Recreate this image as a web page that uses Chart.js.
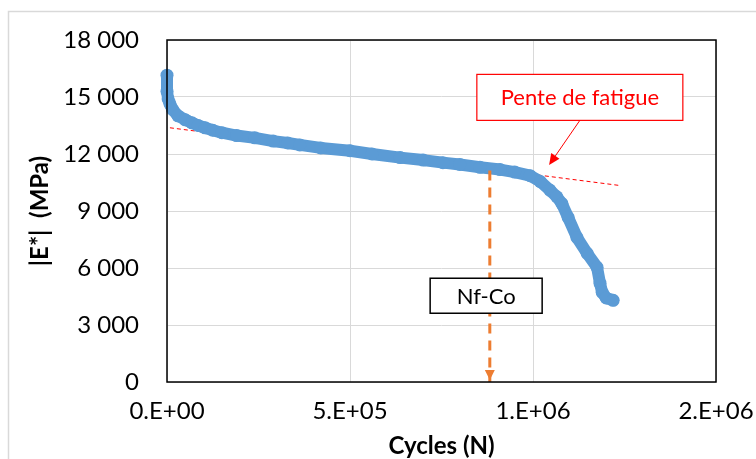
<!DOCTYPE html>
<html>
<head>
<meta charset="utf-8">
<script src="https://cdn.jsdelivr.net/npm/chart.js@4.4.1/dist/chart.umd.min.js"></script>
<style>
  html, body { margin: 0; padding: 0; background: #fff; }
  #wrap { width: 756px; height: 459px; position: relative; }
</style>
</head>
<body>
<div id="wrap"><canvas id="grafico" width="756" height="459"></canvas></div>
<script>
// modulus curve (cycles, |E*| MPa)
const cycles = [0, 0, 3000, 8000, 15000, 30000, 50000, 68000, 85000, 104000, 125000, 150000, 190000, 240000,
  290000, 330000, 363000, 420000, 500000, 560000, 637000, 700000, 754000, 800000, 855000, 910000, 950000,
  992000, 1020000, 1046000, 1065000, 1079000, 1096000, 1120000, 1148000, 1175000, 1183000, 1189000, 1200000, 1219000];
const modulus = [16150, 15300, 14900, 14640, 14350, 14010, 13800, 13640, 13500, 13380, 13250, 13120, 12970, 12850,
  12680, 12580, 12480, 12320, 12170, 12000, 11810, 11680, 11545, 11450, 11300, 11180, 11050,
  10860, 10550, 10100, 9750, 9390, 8660, 7610, 6770, 6040, 5200, 4720, 4420, 4300];

// fatigue slope (trend line)
const penteX = [8000, 1238000];
const penteY = [13380, 10340];

// Nf-Co marker
const nfX = [882000, 882000];
const nfY = [11130, 0];

const xTicks = [0, 500000, 1000000, 1500000];
const xTickLabels = ['0.E+00', '5.E+05', '1.E+06', '2.E+06'];
const yTickLabels = ['0', '3 000', '6 000', '9 000', '12 000', '15 000', '18 000'];

const FONT = 'Lato, "Open Sans", sans-serif';

const extras = {
  id: 'extras',
  beforeDraw(chart) {
    const ctx = chart.ctx;
    ctx.save();
    ctx.fillStyle = '#fff';
    ctx.fillRect(0, 0, chart.width, chart.height);
    ctx.strokeStyle = '#D9D9D9';
    ctx.lineWidth = 1.5;
    ctx.strokeRect(8.5, 11.5, 800, 500);
    ctx.restore();
  },
  afterDatasetsDraw(chart) {
    const ctx = chart.ctx;
    const xs = chart.scales.x, ys = chart.scales.y;
    const a = chart.chartArea;
    ctx.save();
    // plot frame
    ctx.strokeStyle = '#000';
    ctx.lineWidth = 1.5;
    ctx.strokeRect(a.left, a.top, a.right - a.left, a.bottom - a.top);

    // orange arrow head
    const ax = xs.getPixelForValue(nfX[1]);
    const ay = ys.getPixelForValue(nfY[1]) - 2;
    ctx.fillStyle = '#ED7D31';
    ctx.beginPath();
    ctx.moveTo(ax, ay);
    ctx.lineTo(ax - 5, ay - 10);
    ctx.lineTo(ax + 5, ay - 10);
    ctx.closePath();
    ctx.fill();

    // Nf-Co box
    const bx = xs.getPixelForValue(872000), by = ys.getPixelForValue(4540);
    ctx.fillStyle = '#fff';
    ctx.fillRect(bx - 56, by - 17.5, 112, 35);
    ctx.strokeStyle = '#000';
    ctx.lineWidth = 1.5;
    ctx.strokeRect(bx - 56, by - 17.5, 112, 35);
    ctx.fillStyle = '#000';
    ctx.font = '22px ' + FONT;
    ctx.textAlign = 'center';
    ctx.textBaseline = 'middle';
    ctx.fillText('Nf-Co', bx, by + 1);

    // Pente de fatigue box
    const px = xs.getPixelForValue(1128000), py = ys.getPixelForValue(14980);
    ctx.fillStyle = '#fff';
    ctx.fillRect(px - 103, py - 23, 206, 46);
    ctx.strokeStyle = '#FF0000';
    ctx.lineWidth = 1.2;
    ctx.strokeRect(px - 103, py - 23, 206, 46);
    ctx.fillStyle = '#FF0000';
    ctx.font = '22px ' + FONT;
    ctx.fillText('Pente de fatigue', px, py + 1);

    // red arrow to the slope line
    const sx = px, sy = py + 23;
    const tx = xs.getPixelForValue(1044000), ty = ys.getPixelForValue(11000) - 8;
    const ang = Math.atan2(ty - sy, tx - sx);
    ctx.strokeStyle = '#FF0000';
    ctx.lineWidth = 1;
    ctx.beginPath();
    ctx.moveTo(sx, sy);
    ctx.lineTo(tx - 8 * Math.cos(ang), ty - 8 * Math.sin(ang));
    ctx.stroke();
    ctx.beginPath();
    ctx.moveTo(tx, ty);
    ctx.lineTo(tx - 11 * Math.cos(ang) + 5 * Math.sin(ang), ty - 11 * Math.sin(ang) - 5 * Math.cos(ang));
    ctx.lineTo(tx - 11 * Math.cos(ang) - 5 * Math.sin(ang), ty - 11 * Math.sin(ang) + 5 * Math.cos(ang));
    ctx.closePath();
    ctx.fillStyle = '#FF0000';
    ctx.fill();
    ctx.restore();
  }
};

const ctx = document.getElementById('grafico').getContext('2d');

new Chart(ctx, {
  type: 'scatter',
  data: {
    datasets: [
      {
        label: 'Pente',
        data: penteX.map((x, i) => ({ x: x, y: penteY[i] })),
        showLine: true,
        borderColor: '#FF0000',
        borderWidth: 1,
        borderDash: [4, 3],
        pointRadius: 0,
        order: 3
      },
      {
        label: '|E*|',
        data: cycles.map((x, i) => ({ x: x, y: modulus[i] })),
        showLine: true,
        borderColor: '#5B9BD5',
        backgroundColor: '#5B9BD5',
        borderWidth: 12,
        borderCapStyle: 'round',
        borderJoinStyle: 'round',
        pointRadius: 6.5,
        pointBorderWidth: 0,
        clip: false,
        order: 2
      },
      {
        label: 'Nf-Co',
        data: nfX.map((x, i) => ({ x: x, y: nfY[i] })),
        showLine: true,
        borderColor: '#ED7D31',
        borderWidth: 3,
        borderDash: [10, 7],
        pointRadius: 0,
        order: 1
      }
    ]
  },
  options: {
    responsive: false,
    animation: false,
    layout: { padding: { left: 20, top: 40, right: 40, bottom: 0 } },
    plugins: { legend: { display: false }, tooltip: { enabled: false } },
    scales: {
      x: {
        type: 'linear',
        min: 0,
        max: 1500000,
        afterBuildTicks: (axis) => { axis.ticks = xTicks.map(v => ({ value: v })); },
        afterFit: (axis) => { axis.height = 77; axis.paddingLeft = 0; axis.paddingRight = 0; },
        grid: { color: '#D9D9D9', lineWidth: 1, drawTicks: false },
        border: { display: false },
        ticks: {
          padding: 15,
          maxRotation: 0,
          color: '#000',
          font: { family: FONT, size: 24 },
          callback: (v, i) => xTickLabels[i]
        },
        title: {
          display: true,
          text: 'Cycles (N)',
          color: '#000',
          font: { family: FONT, size: 24, weight: 'bold' },
          padding: { top: 0, bottom: -2 }
        }
      },
      y: {
        min: 0,
        max: 18000,
        afterFit: (axis) => { axis.width = 147; axis.paddingTop = 0; axis.paddingBottom = 0; },
        grid: { color: '#D9D9D9', lineWidth: 1, drawTicks: false },
        border: { display: false },
        ticks: {
          stepSize: 3000,
          padding: 28,
          color: '#000',
          font: { family: FONT, size: 24 },
          callback: (v, i) => yTickLabels[i]
        },
        title: {
          display: true,
          text: '|E*|  (MPa)',
          color: '#000',
          font: { family: FONT, size: 24, weight: 'bold' },
          padding: { top: 6, bottom: 0 }
        }
      }
    }
  },
  plugins: [extras]
});
</script>
</body>
</html>
